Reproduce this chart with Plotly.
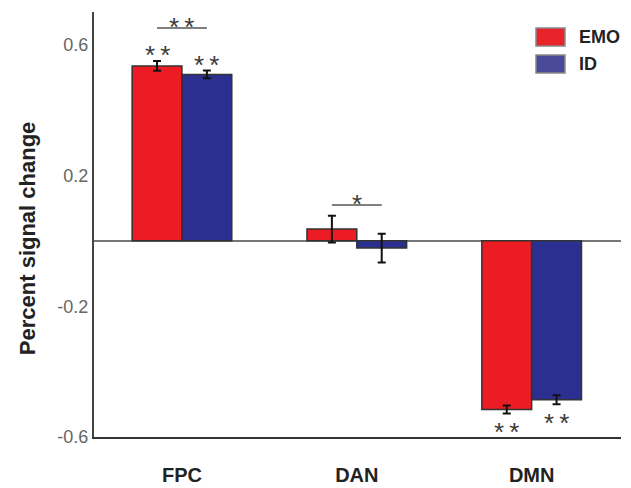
import plotly.graph_objects as go

categories = ["FPC", "DAN", "DMN"]
emo_vals = [0.535, 0.036, -0.516]
emo_err = [0.015, 0.041, 0.012]
id_vals = [0.509, -0.022, -0.486]
id_err = [0.012, 0.044, 0.014]
y_tickvals = [0.6, 0.2, -0.2, -0.6]
y_ticktext = ["0.6", "0.2", "-0.2", "-0.6"]
# significance marks
STAR2 = "*\u2009*"
bar_stars_emo = [STAR2, "", STAR2]
bar_stars_id = [STAR2, "", STAR2]
bracket_cats = [0, 1]
bracket_y = [0.651, 0.11]
bracket_text = [STAR2, "*"]

RED = "#ED1C24"
BLUE = "#2B3090"
FONT = "Liberation Sans, Arial, sans-serif"

xpos = list(range(len(categories)))
bargap = 0.43
half = (1 - bargap) / 4  # offset of each bar center from category center

fig = go.Figure()
fig.add_trace(go.Bar(
    x=xpos, y=emo_vals, name="EMO", marker=dict(color=RED, line=dict(color="#333333", width=1.5)),
    error_y=dict(type="data", array=emo_err, color="#111111", thickness=2, width=4),
))
fig.add_trace(go.Bar(
    x=xpos, y=id_vals, name="ID", marker=dict(color=BLUE, line=dict(color="#333333", width=1.5)),
    error_y=dict(type="data", array=id_err, color="#111111", thickness=2, width=4),
))

annotations = []
shapes = []
star_font = dict(family=FONT, size=26, color="#3a3a3a")
for i, c in enumerate(xpos):
    for vals, errs, stars, sgn in ((emo_vals, emo_err, bar_stars_emo, -1), (id_vals, id_err, bar_stars_id, 1)):
        if not stars[i]:
            continue
        v = vals[i]
        if v >= 0:
            y = v + errs[i]
            ys = 6
        else:
            y = v - errs[i]
            ys = -19
        annotations.append(dict(x=c + sgn * half, y=y, text=stars[i], showarrow=False,
                                xref="x", yref="y", yanchor="middle", yshift=ys, font=star_font))

for c, by, t in zip(bracket_cats, bracket_y, bracket_text):
    shapes.append(dict(type="line", xref="x", yref="y", x0=c - half, x1=c + half, y0=by, y1=by,
                       line=dict(color="#555555", width=1.5)))
    annotations.append(dict(x=c, y=by, text=t, showarrow=False, xref="x", yref="y",
                            yanchor="middle", yshift=1, font=star_font))

# legend drawn as swatches + labels
legend_items = [("EMO", "#E8232A", 0.9624, 0.92), ("ID", "#4A4B98", 0.8988, 0.8565)]
for label, col, y1, y0 in legend_items:
    shapes.append(dict(type="rect", xref="paper", yref="paper", x0=0.8387, x1=0.8937, y0=y0, y1=y1,
                       fillcolor=col, line=dict(color="#888888", width=1.5)))
    annotations.append(dict(x=0.9165, y=(y0 + y1) / 2, xref="paper", yref="paper", text="<b>%s</b>" % label,
                            showarrow=False, xanchor="left", yanchor="middle",
                            font=dict(family=FONT, size=18, color="#222222")))

# y-axis title
annotations.append(dict(x=-0.127, y=0.468, xref="paper", yref="paper", text="<b>Percent signal change</b>",
                        textangle=-90, showarrow=False, xanchor="center", yanchor="middle",
                        font=dict(family=FONT, size=22, color="#222222")))

fig.update_layout(
    width=631, height=488,
    margin=dict(l=94, r=10, t=12, b=51, autoexpand=False),
    paper_bgcolor="white", plot_bgcolor="white",
    barmode="group", bargap=bargap, bargroupgap=0,
    showlegend=False,
    annotations=annotations, shapes=shapes,
    font=dict(family=FONT),
)
fig.update_xaxes(
    range=[-0.503, 2.511], tickvals=xpos, ticktext=["<b>%s</b>" % c for c in categories],
    showline=True, linecolor="#333333", linewidth=2, showgrid=False, zeroline=False, automargin=False,
    ticks="", tickfont=dict(family=FONT, size=20, color="#222222"), ticklabelstandoff=19,
)
fig.update_yaxes(
    range=[-0.6, 0.7], tickvals=y_tickvals, ticktext=y_ticktext, automargin=False,
    showline=True, linecolor="#444444", linewidth=2, showgrid=False,
    zeroline=True, zerolinecolor="#777777", zerolinewidth=1.5,
    ticks="", tickfont=dict(family=FONT, size=18, color="#666666"),
)

fig.write_html("out.html", config={"displayModeBar": False},
               post_script="document.body.style.margin='0';document.body.style.padding='0';")
